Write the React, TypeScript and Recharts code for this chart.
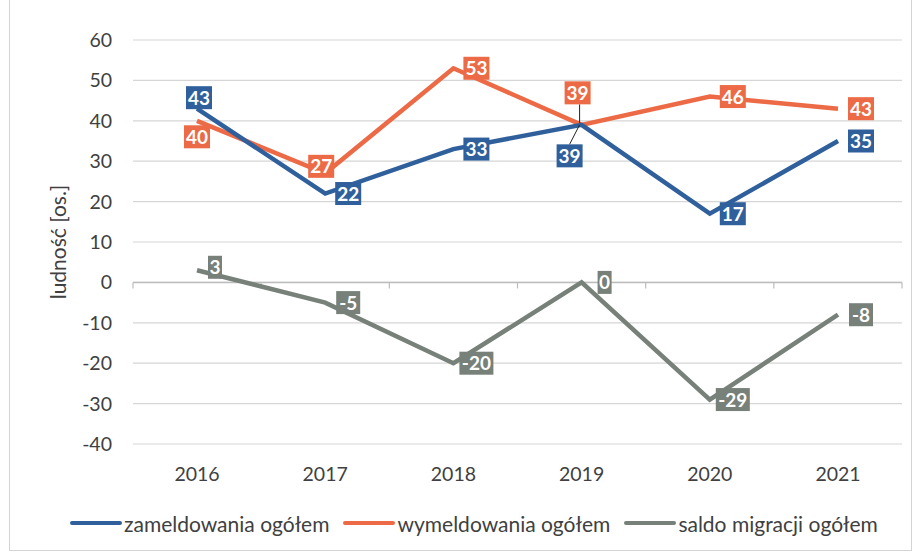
import React from 'react';
import * as R from 'recharts';
import { LineChart, Line, XAxis, YAxis, CartesianGrid, ReferenceLine } from 'recharts';

const years = ['2016', '2017', '2018', '2019', '2020', '2021'];
const zameldowania = [43, 22, 33, 39, 17, 35];
const wymeldowania = [40, 27, 53, 39, 46, 43];
const saldo = [3, -5, -20, 0, -29, -8];
const yTicks = [-40, -30, -20, -10, 0, 10, 20, 30, 40, 50, 60];

// label placement per point (style only)
const blueLabelPos = ['above', 'right', 'right', 'belowLeft', 'right', 'right'];
const orangeLabelPos = ['below', 'center', 'right', 'aboveLeader', 'right', 'right'];
const grayLabelPos = ['first', 'right', 'right', 'right', 'right', 'right'];

const data = years.map((y, i) => ({ year: y, zam: zameldowania[i], wym: wymeldowania[i], saldo: saldo[i] }));

const BLUE = '#30609c';
const ORANGE = '#ec6a45';
const GRAY = '#778079';
const FONT = "Lato, 'Open Sans', 'Noto Sans', sans-serif";
const Y_MIN = -40;
const Y_MAX = 60;

const makeLabel = (color: string, positions: string[], narrow: boolean) => (props: any) => {
  const { x, y, value, index } = props;
  const pos = positions[index];
  const text = String(value);
  const w = narrow ? 10 * text.length + 4 : 10.5 * text.length + 5;
  const h = 23;
  let cx = x + 23;
  let cy = y;
  let leader: any = null;
  if (pos === 'above') { cx = x + 2; cy = y - 11; }
  if (pos === 'below') { cx = x; cy = y + 16; }
  if (pos === 'center') { cx = x - 4; cy = y - 7; }
  if (pos === 'belowLeft') {
    cx = x - 12; cy = y + 31;
    leader = <polyline points={`${x - 2},${y} ${cx},${cy - h / 2}`} fill="none" stroke="#222" strokeWidth={1} />;
  }
  if (pos === 'aboveLeader') {
    cx = x - 4; cy = y - 32;
    leader = <polyline points={`${cx + 2},${cy + h / 2} ${cx + 2},${y - 2}`} fill="none" stroke="#222" strokeWidth={1} />;
  }
  if (pos === 'first') { cx = x + 18; cy = y - 3; }
  return (
    <g>
      {leader}
      <rect x={cx - w / 2} y={cy - h / 2} width={w} height={h} fill={color} />
      <text x={cx} y={cy + 7} textAnchor="middle" fill="#ffffff" fontSize={19} fontFamily={FONT} fontWeight="bold">{text}</text>
    </g>
  );
};

const ZeroTicks = () => {
  const hook: any = (R as any).usePlotArea;
  if (typeof hook !== 'function') return null;
  const area = hook();
  if (!area) return null;
  const y0 = area.y + area.height * (Y_MAX / (Y_MAX - Y_MIN));
  const n = years.length;
  return (
    <g>
      {Array.from({ length: n + 1 }, (_, k) => {
        const x = area.x + (k * area.width) / n;
        return <line key={k} x1={x} x2={x} y1={y0} y2={y0 + 6} stroke="#bdbdbd" strokeWidth={1.2} />;
      })}
    </g>
  );
};

const YLabel = () => (
  <text x={66} y={242} transform="rotate(-90 66 242)" textAnchor="middle" fill="#404040" fontSize={21} fontFamily={FONT}>ludność [os.]</text>
);

const legendItems = [
  { name: 'zameldowania ogółem', color: BLUE },
  { name: 'wymeldowania ogółem', color: ORANGE },
  { name: 'saldo migracji ogółem', color: GRAY },
];

const LegendBox = () => (
  <div style={{ position: 'absolute', left: 70, top: 509, height: 28, display: 'flex', alignItems: 'center', fontFamily: FONT, fontSize: 21, color: '#404040', whiteSpace: 'nowrap' }}>
    {legendItems.map((it) => (
      <div key={it.name} style={{ display: 'flex', alignItems: 'center', marginRight: 14 }}>
        <div style={{ width: 52, height: 4, background: it.color, marginRight: 2, borderRadius: 2 }} />
        <span>{it.name}</span>
      </div>
    ))}
  </div>
);

export default function App() {
  return (
    <div style={{ position: 'fixed', left: 0, top: 0, width: 914, height: 553, background: '#fff' }}>
      <div style={{ position: 'absolute', left: 9, top: -2, width: 903, height: 553, border: '1px solid #d4d4d4', boxSizing: 'border-box' }} />
      <LineChart width={914} height={553} data={data} margin={{ top: 40, right: 12, bottom: 79, left: 70 }}>
        <CartesianGrid vertical={false} stroke="#d6d6d6" strokeWidth={1.2} />
        <XAxis dataKey="year" axisLine={false} tickLine={false} tickMargin={17} height={30} padding={{ left: 64, right: 64 }} tick={{ fill: '#404040', fontSize: 19.5, fontFamily: FONT }} />
        <YAxis domain={[Y_MIN, Y_MAX]} ticks={yTicks} axisLine={false} tickLine={false} width={63} tickMargin={15} tick={{ fill: '#404040', fontSize: 19.5, fontFamily: FONT }} interval={0} />
        <ReferenceLine y={0} stroke="#bdbdbd" strokeWidth={1.5} />
        <ZeroTicks />
        <Line type="linear" dataKey="saldo" stroke={GRAY} strokeWidth={4.5} dot={false} isAnimationActive={false} label={makeLabel(GRAY, grayLabelPos, true)} />
        <Line type="linear" dataKey="wym" stroke={ORANGE} strokeWidth={4.5} dot={false} isAnimationActive={false} label={makeLabel(ORANGE, orangeLabelPos, false)} />
        <Line type="linear" dataKey="zam" stroke={BLUE} strokeWidth={4.5} dot={false} isAnimationActive={false} label={makeLabel(BLUE, blueLabelPos, false)} />
        <YLabel />
      </LineChart>
      <LegendBox />
    </div>
  );
}
